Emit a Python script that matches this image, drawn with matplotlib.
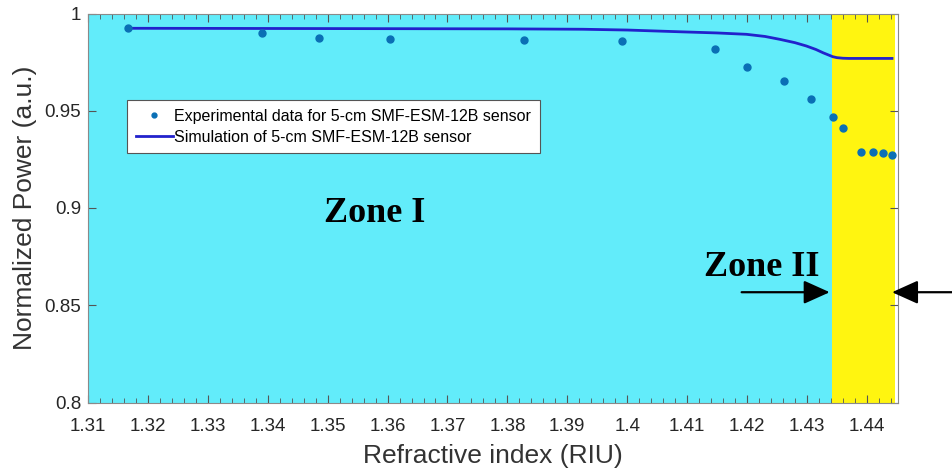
import matplotlib
matplotlib.use("Agg")
import matplotlib.pyplot as plt
from matplotlib.ticker import MultipleLocator

plt.rcParams['font.family'] = ['Liberation Sans', 'DejaVu Sans']

exp_ri = [1.3166, 1.3390, 1.3486, 1.3604, 1.3828, 1.3991, 1.4146, 1.4200, 1.4262,
          1.4307, 1.4344, 1.4360, 1.4391, 1.4410, 1.4427, 1.4442]
exp_power = [0.9924, 0.9901, 0.9872, 0.9867, 0.9864, 0.9859, 0.9819, 0.9726, 0.9653,
             0.9560, 0.9469, 0.9413, 0.9289, 0.9289, 0.9281, 0.9274]

sim_ri = [1.3166, 1.3400, 1.3600, 1.3800, 1.3926, 1.4000, 1.4088, 1.4150, 1.4199,
          1.4230, 1.4255, 1.4280, 1.4299, 1.4315, 1.4327, 1.4335, 1.4343, 1.4350,
          1.4360, 1.4370, 1.4400, 1.4442]
sim_power = [0.9924, 0.9923, 0.9922, 0.9921, 0.9919, 0.9915, 0.9906, 0.9900, 0.9893,
             0.9882, 0.9867, 0.9850, 0.9833, 0.9815, 0.9798, 0.9788, 0.9778, 0.9773,
             0.9770, 0.9769, 0.9769, 0.9769]

xticks = [1.31, 1.32, 1.33, 1.34, 1.35, 1.36, 1.37, 1.38, 1.39, 1.40, 1.41, 1.42, 1.43, 1.44]
xticklabels = ['1.31', '1.32', '1.33', '1.34', '1.35', '1.36', '1.37', '1.38', '1.39',
               '1.4', '1.41', '1.42', '1.43', '1.44']
yticks = [0.8, 0.85, 0.9, 0.95, 1.0]
yticklabels = ['0.8', '0.85', '0.9', '0.95', '1']

xmin, xmax = 1.31, 1.4452
zone_boundary = 1.4342
yellow_end = 1.4447

W, H = 953, 475
fig = plt.figure(figsize=(W / 100, H / 100), dpi=100)
ax = fig.add_axes([88 / W, (H - 402.5) / H, (898 - 88) / W, (402.5 - 13.5) / H])

ax.axvspan(xmin, zone_boundary, color='#62ECFA', zorder=0, lw=0)
ax.axvspan(zone_boundary, yellow_end, color='#FFF510', zorder=0, lw=0)

ax.plot(exp_ri, exp_power, 'o', color='#0A6FB5', ms=5, zorder=3,
        label='Experimental data for 5-cm SMF-ESM-12B sensor')
ax.plot(sim_ri, sim_power, '-', color='#2222CC', lw=2, zorder=2,
        label='Simulation of 5-cm SMF-ESM-12B sensor')

ax.set_xlim(xmin, xmax)
ax.set_ylim(0.8, 1.0)
ax.set_xticks(xticks)
ax.set_xticklabels(xticklabels)
ax.set_yticks(yticks)
ax.set_yticklabels(yticklabels)
ax.xaxis.set_minor_locator(MultipleLocator(0.002))
ax.tick_params(which='both', direction='in', top=True, right=True, color='#555555',
               labelsize=13.5, labelcolor='#262626')
ax.tick_params(which='major', length=6)
ax.tick_params(which='minor', length=3.5)
ax.tick_params(axis='x', pad=11)
ax.tick_params(axis='y', pad=5)
for s in ax.spines.values():
    s.set_color('#8a8a8a')

ax.set_xlabel('Refractive index (RIU)', fontsize=19, color='#333333', labelpad=7)
ax.set_ylabel('Normalized Power (a.u.)', fontsize=19, color='#333333', labelpad=5)

leg = ax.legend(loc='upper left', bbox_to_anchor=(0.0482, 0.777), fontsize=11.5,
                frameon=True, fancybox=False, edgecolor='#555555', framealpha=1,
                handlelength=2.3, handletextpad=0.1, borderpad=0.55, labelspacing=0.35,
                borderaxespad=0, markerscale=0.7)
leg.get_frame().set_linewidth(0.8)

ax.text(1.3579, 0.8974, 'Zone I', family='Liberation Serif', fontweight='bold',
        fontsize=26, ha='center', va='center')
ax.text(1.4225, 0.8696, 'Zone II', family='Liberation Serif', fontweight='bold',
        fontsize=26, ha='center', va='center')

arrow_style = dict(arrowstyle='-|>,head_length=0.8,head_width=0.36', color='black',
                   lw=1.6, mutation_scale=20, shrinkA=0, shrinkB=0)
ax.annotate('', xy=(1.4338, 0.8567), xytext=(1.4191, 0.8567),
            arrowprops=arrow_style, annotation_clip=False)
ax.annotate('', xy=(1.4442, 0.8567), xytext=(1.4560, 0.8567),
            arrowprops=arrow_style, annotation_clip=False)

fig.savefig('out.png', dpi=100)
